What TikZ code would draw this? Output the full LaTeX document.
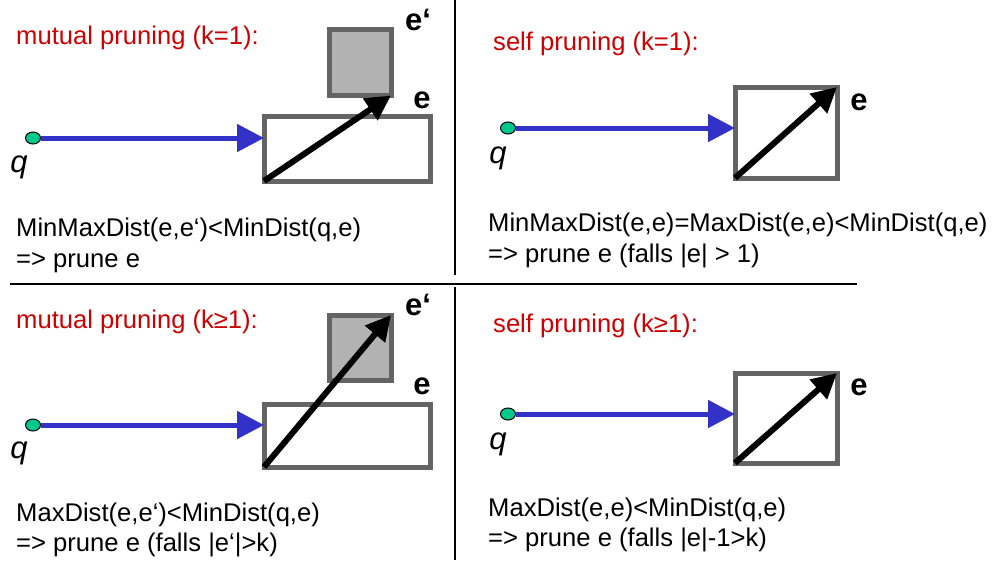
\documentclass[tikz,border=0pt]{standalone}
\usepackage{fontspec}
\setmainfont{Liberation Sans}
\usetikzlibrary{arrows.meta,shapes.geometric}
\definecolor{titlered}{RGB}{204,0,0}
\definecolor{boxgray}{RGB}{100,100,100}
\definecolor{fillgray}{RGB}{178,178,178}
\definecolor{queryblue}{RGB}{50,50,200}
\definecolor{querygreen}{RGB}{0,200,140}
\tikzset{
  title/.style={anchor=base west, inner sep=0pt, text=titlered, font=\fontsize{25.6}{30}\selectfont},
  rule/.style={anchor=base west, inner sep=0pt, align=left, font=\fontsize{25.6}{30.5}\selectfont},
  qpoint/.style={ellipse, draw=black, line width=1pt, fill=querygreen, minimum width=15pt, minimum height=12pt, inner sep=0pt},
  qlabel/.style={inner sep=0pt, font=\fontsize{31}{31}\selectfont\itshape},
  elabel/.style={inner sep=0pt, font=\fontsize{31}{31}\selectfont\bfseries},
  entry/.style={rectangle, draw=boxgray, line width=5pt, inner sep=0pt, outer sep=0pt},
  other/.style={entry, fill=fillgray},
  mindist/.style={draw=queryblue, line width=5pt, -{Triangle[length=27pt,width=27pt]}},
  maxdist/.style={draw=black, line width=6pt, -{Triangle[length=25pt,width=25pt]}},
  divider/.style={draw=black, line width=2pt}
}
\begin{document}
\begin{tikzpicture}[x=1pt, y=-1pt]
\useasboundingbox (0,0) rectangle (999,560);

% panel dividers
\coordinate (vt1) at (455,0);   \coordinate (vt2) at (455,275);
\coordinate (hz1) at (10,284);  \coordinate (hz2) at (857,284);
\coordinate (vb1) at (455,287); \coordinate (vb2) at (455,560);
\path[divider] (vt1) -- (vt2);
\path[divider] (hz1) -- (hz2);
\path[divider] (vb1) -- (vb2);

% ---- mutual pruning, k = 1 ----
\node[title] (t1) at (16,44.5) {mutual pruning (k=1):};
\node[entry, minimum width=166pt, minimum height=65pt] (e1) at (347,148.5) {};
\node[other, minimum width=62pt, minimum height=66pt] (e1p) at (360,62.5) {};
\node[elabel] (l1p) at (418,20) {e‘};
\node[elabel] (l1) at (422,100) {e};
\node[qpoint] (q1) at (33,138) {};
\node[qlabel] (ql1) at (19,167) {q};
\draw[mindist] (q1) -- (q1 -| e1.west);
\draw[maxdist] (e1.south west) -- (e1p.south east);
\node[rule] (r1) at (16,267) {MinMaxDist(e,e‘)<MinDist(q,e)\\=> prune e};

% ---- self pruning, k = 1 ----
\node[title] (t2) at (493,50) {self pruning (k=1):};
\node[entry, minimum width=102pt, minimum height=91pt] (e2) at (786,132.5) {};
\node[elabel] (l2) at (859,102) {e};
\node[qpoint] (q2) at (508,128) {};
\node[qlabel] (ql2) at (498,158) {q};
\draw[mindist] (q2) -- (q2 -| e2.west);
\draw[maxdist] (e2.south west) -- (e2.north east);
\node[rule] (r2) at (488,262) {MinMaxDist(e,e)=MaxDist(e,e)<MinDist(q,e)\\=> prune e (falls |e| > 1)};

% ---- mutual pruning, k >= 1 ----
\node[title] (t3) at (16,328.5) {mutual pruning (k≥1):};
\node[entry, minimum width=166pt, minimum height=63pt] (e3) at (347,435.5) {};
\node[other, minimum width=62pt, minimum height=65pt] (e3p) at (360,347.5) {};
\node[elabel] (l3p) at (418,305) {e‘};
\node[elabel] (l3) at (422,386) {e};
\node[qpoint] (q3) at (33,425) {};
\node[qlabel] (ql3) at (19,453) {q};
\draw[mindist] (q3) -- (q3 -| e3.west);
\draw[maxdist] (e3.south west) -- (e3p.north east);
\node[rule] (r3) at (16,551.5) {MaxDist(e,e‘)<MinDist(q,e)\\=> prune e (falls |e‘|>k)};

% ---- self pruning, k >= 1 ----
\node[title] (t4) at (493,332) {self pruning (k≥1):};
\node[entry, minimum width=102pt, minimum height=90pt] (e4) at (786,418) {};
\node[elabel] (l4) at (859,387) {e};
\node[qpoint] (q4) at (508,414) {};
\node[qlabel] (ql4) at (498,444) {q};
\draw[mindist] (q4) -- (q4 -| e4.west);
\draw[maxdist] (e4.south west) -- (e4.north east);
\node[rule] (r4) at (488,546.5) {MaxDist(e,e)<MinDist(q,e)\\=> prune e (falls |e|-1>k)};
\end{tikzpicture}
\end{document}
